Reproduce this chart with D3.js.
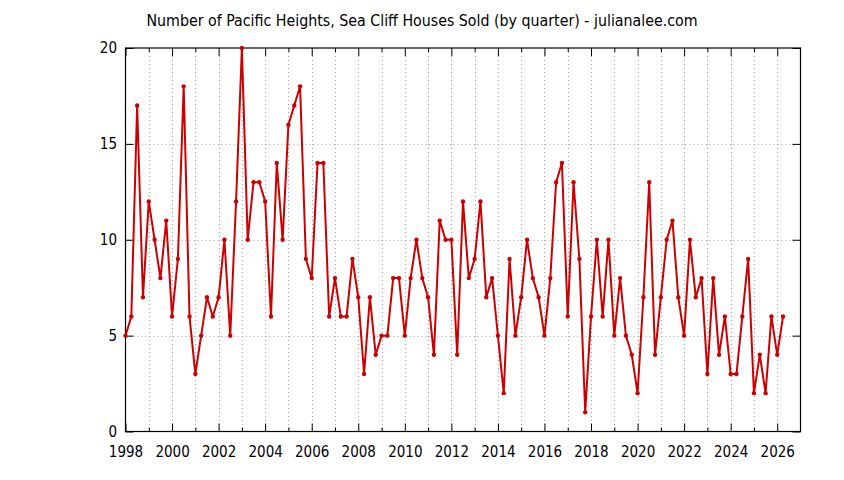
<!DOCTYPE html>
<html><head><meta charset="utf-8">
<script src="https://cdn.jsdelivr.net/npm/d3@7"></script>
<style>
html,body{margin:0;padding:0;background:#fff;}
svg{display:block;}
text{font-family:"DejaVu Sans Condensed","DejaVu Sans",sans-serif;font-stretch:condensed;fill:#000;}
</style></head>
<body>
<svg id="chart" width="844" height="480"></svg>
<script>
const title = "Number of Pacific Heights, Sea Cliff Houses Sold (by quarter) - julianalee.com";
const startYear = 1998;
const quarterValues = [
  5,6,17,7, 12,10,8,11, 6,9,18,6, 3,5,7,6, 7,10,5,12,
  20,10,13,13, 12,6,14,10, 16,17,18,9, 8,14,14,6, 8,6,6,9,
  7,3,7,4, 5,5,8,8, 5,8,10,8, 7,4,11,10, 10,4,12,8,
  9,12,7,8, 5,2,9,5, 7,10,8,7, 5,8,13,14, 6,13,9,1,
  6,10,6,10, 5,8,5,4, 2,7,13,4, 7,10,11,7, 5,10,7,8,
  3,8,4,6, 3,3,6,9, 2,4,2,6, 4,6
];
const xMajorTicks = [1998,2000,2002,2004,2006,2008,2010,2012,2014,2016,2018,2020,2022,2024,2026];
const xMinorTicks = [1999,2001,2003,2005,2007,2009,2011,2013,2015,2017,2019,2021,2023,2025];
const yTicks = [0,5,10,15,20];
const xDomain = [1998, 2027];
const yDomain = [0, 20];

const data = quarterValues.map((v,i)=>({t: startYear + i*0.25, v}));

const L = 125.5, R = 800.5, T = 48, B = 431.5;
const svg = d3.select("#chart");
const x = d3.scaleLinear().domain(xDomain).range([L, R]);
const y = d3.scaleLinear().domain(yDomain).range([B, T]);

// grid
const grid = svg.append("g").attr("stroke","#a8a8a8").attr("stroke-width",1).attr("stroke-dasharray","1,3");
xMajorTicks.concat(xMinorTicks).filter(d=>d>xDomain[0] && d<xDomain[1]).forEach(d=>{
  grid.append("line").attr("x1",Math.round(x(d))+0.5).attr("x2",Math.round(x(d))+0.5).attr("y1",T).attr("y2",B);
});
yTicks.filter(d=>d>yDomain[0] && d<yDomain[1]).forEach(d=>{
  grid.append("line").attr("x1",L).attr("x2",R).attr("y1",Math.round(y(d))+0.5).attr("y2",Math.round(y(d))+0.5);
});

function styleAxis(g){ g.select(".domain").remove(); g.selectAll("line").attr("stroke","#000"); g.selectAll("text").attr("font-size","15px").attr("fill","#000").style("font-family",null); }

// bottom axis
svg.append("g").attr("transform",`translate(0,${B})`)
  .call(d3.axisBottom(x).tickValues(xMajorTicks).tickSize(-8).tickPadding(15).tickFormat(d3.format("d")))
  .call(styleAxis);
svg.append("g").attr("transform",`translate(0,${B})`)
  .call(d3.axisBottom(x).tickValues(xMinorTicks).tickSize(-4).tickFormat(""))
  .call(styleAxis);
// top mirror
svg.append("g").attr("transform",`translate(0,${T})`)
  .call(d3.axisTop(x).tickValues(xMajorTicks).tickSize(-8).tickFormat(""))
  .call(styleAxis);
svg.append("g").attr("transform",`translate(0,${T})`)
  .call(d3.axisTop(x).tickValues(xMinorTicks).tickSize(-4).tickFormat(""))
  .call(styleAxis);
// left axis
svg.append("g").attr("transform",`translate(${L},0)`)
  .call(d3.axisLeft(y).tickValues(yTicks).tickSize(-8).tickPadding(8.5).tickFormat(d3.format("d")))
  .call(styleAxis);
// right mirror
svg.append("g").attr("transform",`translate(${R},0)`)
  .call(d3.axisRight(y).tickValues(yTicks).tickSize(-8).tickFormat(""))
  .call(styleAxis);

// frame
svg.append("rect").attr("x",L).attr("y",T).attr("width",R-L).attr("height",B-T)
  .attr("fill","none").attr("stroke","#000").attr("stroke-width",1.2);

// line
const line = d3.line().x(d=>x(d.t)).y(d=>y(d.v));
svg.append("path").datum(data).attr("d",line).attr("fill","none")
  .attr("stroke","#cc0000").attr("stroke-width",2).attr("stroke-linejoin","round");
svg.append("g").selectAll("circle").data(data).join("circle")
  .attr("cx",d=>x(d.t)).attr("cy",d=>y(d.v)).attr("r",2.2).attr("fill","#cc0000");

// title
svg.append("text").attr("x",422).attr("y",25.5).attr("text-anchor","middle")
  .attr("font-size","15.8px").text(title);
</script>
</body></html>
